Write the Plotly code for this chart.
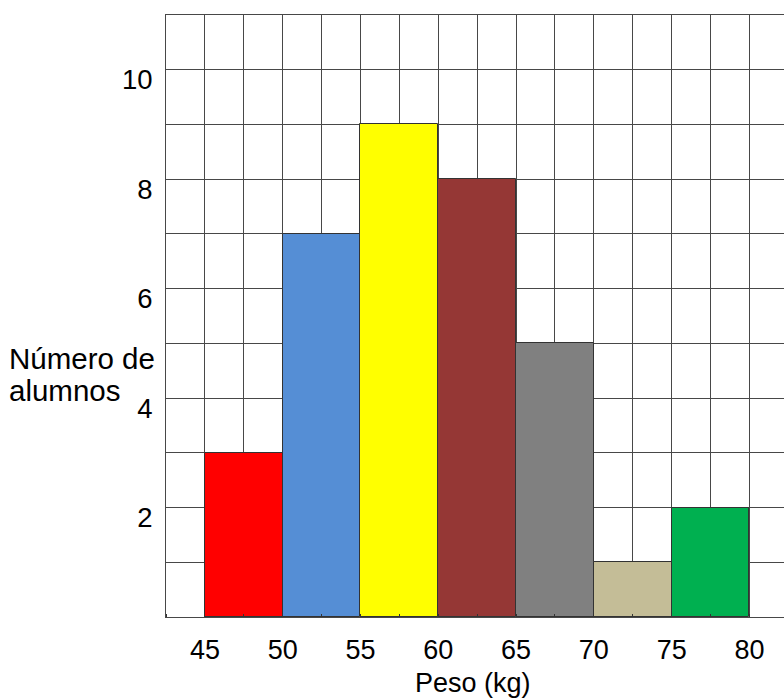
import plotly.graph_objects as go

# Weight classes (kg) and number of students in each
bin_start = [45, 50, 55, 60, 65, 70, 75]
bin_width = 5
alumnos = [3, 7, 9, 8, 5, 1, 2]
bar_colors = ["#FF0000", "#558ED5", "#FFFF00", "#953735", "#808080", "#C4BD97", "#00B050"]

x_ticks = [45, 50, 55, 60, 65, 70, 75, 80]
y_ticks = [2, 4, 6, 8, 10]

centers = [s + bin_width / 2 for s in bin_start]

FONT = "Liberation Sans, Arial, sans-serif"
GRID = "#484848"

fig = go.Figure(
    go.Bar(
        x=centers,
        y=alumnos,
        width=[bin_width] * len(alumnos),
        marker=dict(color=bar_colors, line=dict(color="#333333", width=1)),
        hoverinfo="skip",
    )
)

fig.update_layout(
    width=784,
    height=698,
    margin=dict(l=166, r=0, t=15, b=81),
    paper_bgcolor="white",
    plot_bgcolor="white",
    showlegend=False,
    font=dict(family=FONT, color="black"),
    bargap=0,
)

fig.update_xaxes(
    range=[42.5, 82.22],
    tickmode="array",
    tickvals=x_ticks,
    ticktext=[str(v) for v in x_ticks],
    tickfont=dict(size=27, family=FONT, color="black"),
    ticks="",
    ticklabelstandoff=9,
    showgrid=True,
    gridcolor=GRID,
    gridwidth=1,
    minor=dict(dtick=2.5, tick0=42.5, showgrid=True, gridcolor=GRID, gridwidth=1,
               ticks="inside", ticklen=3, tickcolor="#333333"),
    showline=True,
    linecolor=GRID,
    linewidth=1,
    mirror=True,
    zeroline=False,
    fixedrange=True,
)

fig.update_yaxes(
    range=[0, 11],
    tickmode="array",
    tickvals=y_ticks,
    ticktext=[str(v) for v in y_ticks],
    tickfont=dict(size=27.5, family=FONT, color="black"),
    ticks="",
    ticklabelstandoff=7,
    ticklabelshift=10,
    showgrid=True,
    gridcolor=GRID,
    gridwidth=1,
    minor=dict(dtick=1, tick0=0, showgrid=True, gridcolor=GRID, gridwidth=1),
    showline=True,
    linecolor=GRID,
    linewidth=1,
    zeroline=False,
    fixedrange=True,
)

# Axis titles
TITLE_SIZE = 29.5
fig.add_annotation(text="Número de", xref="paper", yref="paper",
                   x=-159 / 618, y=(617 - 358) / 602, xanchor="left", yanchor="middle",
                   showarrow=False, font=dict(size=TITLE_SIZE, family=FONT, color="black"))
fig.add_annotation(text="alumnos", xref="paper", yref="paper",
                   x=-159 / 618, y=(617 - 390) / 602, xanchor="left", yanchor="middle",
                   showarrow=False, font=dict(size=TITLE_SIZE, family=FONT, color="black"))
fig.add_annotation(text="Peso (kg)", xref="paper", yref="paper",
                   x=(473 - 166) / 618, y=-(683 - 617) / 602, xanchor="center", yanchor="middle",
                   showarrow=False, font=dict(size=27, family=FONT, color="black"))

fig.write_html("out.html")
